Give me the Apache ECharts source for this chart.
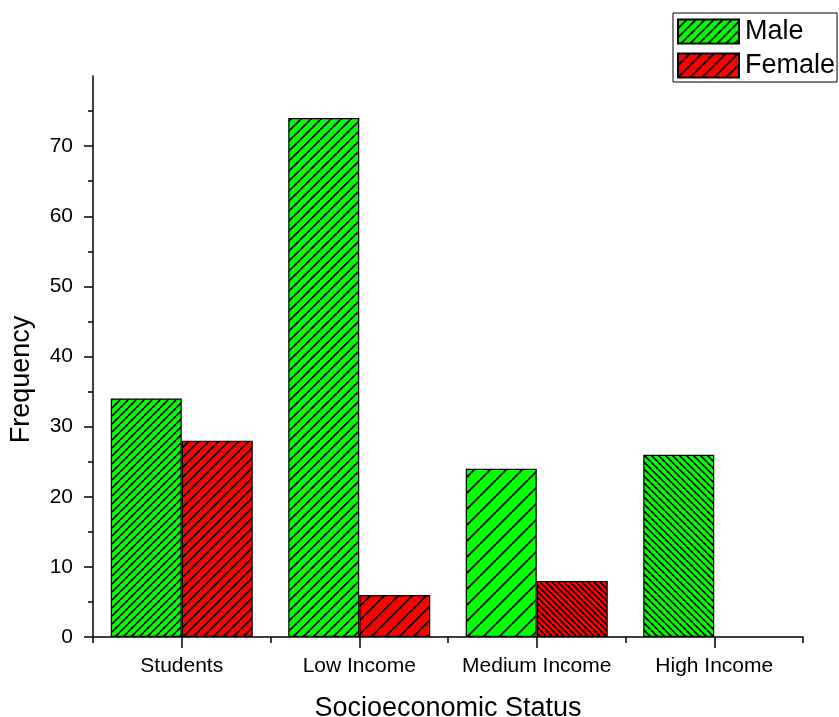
<!DOCTYPE html>
<html>
<head>
<meta charset="utf-8">
<script src="https://cdn.jsdelivr.net/npm/echarts@6/dist/echarts.min.js"></script>
<style>html,body{margin:0;padding:0;background:#fff;}#c{width:839px;height:717px;}</style>
</head>
<body>
<div id="c"></div>
<script>
const categories = ['Students', 'Low Income', 'Medium Income', 'High Income'];
const maleValues = [34, 74, 24, 26];
const femaleValues = [28, 6, 8, 0];
const yTickLabels = [0, 10, 20, 30, 40, 50, 60, 70];

const FONT = "'Liberation Sans', Arial, sans-serif";

function hatch(bg, s, dir) {
  const c = document.createElement('canvas');
  c.width = s; c.height = s;
  const g = c.getContext('2d');
  g.fillStyle = bg; g.fillRect(0, 0, s, s);
  g.strokeStyle = '#000'; g.lineWidth = 1.6;
  g.beginPath();
  for (let k = -1; k <= 1; k++) {
    if (dir === '/') { g.moveTo(k * s, s); g.lineTo(k * s + s, 0); }
    else { g.moveTo(k * s, 0); g.lineTo(k * s + s, s); }
  }
  g.stroke();
  return { image: c, repeat: 'repeat' };
}

const GREEN = '#00ff00', RED = '#ff0000';
// hatch styles per bar (spacing in px, direction)
const maleHatch = [[8, '/'], [10, '/'], [16, '/'], [7, '\\']];
const femaleHatch = [[10, '/'], [14, '/'], [6, '\\'], [10, '/']];

const chart = echarts.init(document.getElementById('c'), null, { renderer: 'canvas' });
chart.setOption({
  animation: false,
  backgroundColor: '#fff',
  textStyle: { fontFamily: FONT, color: '#000' },
  grid: { left: 93, right: 36, top: 76, bottom: 80, containLabel: false, outerBoundsMode: 'none' },
  legend: {
    orient: 'vertical', left: 673, top: 13,
    padding: [5, 2, 3, 4], itemWidth: 61, itemHeight: 24, itemGap: 7,
    borderColor: '#000', borderWidth: 1,
    icon: 'rect',
    textStyle: { fontSize: 27, color: '#000', fontFamily: FONT, padding: [0, 0, 0, 1] },
    data: ['Male', 'Female']
  },
  xAxis: [{
    type: 'category', data: categories,
    axisLine: { lineStyle: { color: '#000', width: 1.5 } },
    axisTick: { show: true, alignWithLabel: true, interval: 0, length: 11, lineStyle: { color: '#000', width: 1.5 } },
    axisLabel: { show: true, interval: 0, fontSize: 21, color: '#000', margin: 19, fontFamily: FONT },
    name: 'Socioeconomic Status', nameLocation: 'middle', nameGap: 58,
    nameTextStyle: { fontSize: 27, color: '#000', fontFamily: FONT }
  }, {
    type: 'category', data: categories, position: 'bottom',
    axisLine: { show: false },
    axisTick: { show: true, interval: 0, length: 6, lineStyle: { color: '#000', width: 1.5 } },
    axisLabel: { show: false }
  }],
  yAxis: {
    type: 'value', min: 0, max: 80, interval: 10,
    axisLine: { show: true, lineStyle: { color: '#000', width: 1.5 } },
    axisTick: { show: true, length: 9, customValues: yTickLabels, lineStyle: { color: '#000', width: 1.5 } },
    minorTick: { show: true, splitNumber: 2, length: 5, lineStyle: { color: '#000', width: 1.5 } },
    splitLine: { show: false },
    axisLabel: { fontSize: 21, color: '#000', margin: 20, fontFamily: FONT, customValues: yTickLabels },
    name: 'Frequency', nameLocation: 'middle', nameGap: 58,
    nameTextStyle: { fontSize: 27, color: '#000', fontFamily: FONT, padding: [0, 46, 0, 0] }
  },
  series: [{
    name: 'Male', type: 'bar', barGap: '0%', barCategoryGap: '20%',
    itemStyle: { color: hatch(GREEN, 9, '/'), borderColor: '#000', borderWidth: 1.2 },
    data: maleValues.map((v, i) => ({ value: v, itemStyle: { color: hatch(GREEN, maleHatch[i][0], maleHatch[i][1]) } }))
  }, {
    name: 'Female', type: 'bar', barGap: '0%', barCategoryGap: '20%',
    itemStyle: { color: hatch(RED, 12, '/'), borderColor: '#000', borderWidth: 1.2 },
    data: femaleValues.map((v, i) => ({ value: v, itemStyle: { color: hatch(RED, femaleHatch[i][0], femaleHatch[i][1]), borderWidth: v === 0 ? 0 : 1.2 } }))
  }]
});
</script>
</body>
</html>
